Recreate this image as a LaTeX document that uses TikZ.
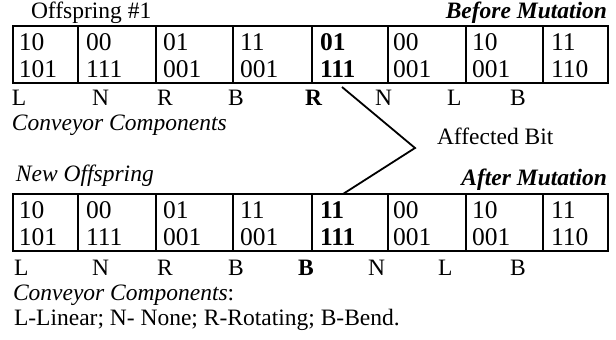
\documentclass[tikz,border=0pt]{standalone}
\usepackage{fontspec}
\setmainfont{Liberation Serif}
\begin{document}
\begin{tikzpicture}[x=1pt,y=-1pt,
  every node/.style={inner sep=0pt, outer sep=0pt, font=\fontsize{23.5}{28}\selectfont},
  txt/.style={anchor=base west},
  rtxt/.style={anchor=base east},
  dig/.style={anchor=base west, font=\fontsize{25.5}{30}\selectfont},
  cell/.style={draw, line width=1.3pt, anchor=north west, minimum height=57pt},
  link/.style={draw, line width=1.8pt}]
\useasboundingbox (0,0) rectangle (616,340);

% ---------- top table ----------
\node[txt] (off1) at (31,18) {Offspring \#1};
\node[rtxt] (bm) at (607,18) {\textbf{\textit{Before Mutation}}};
\foreach \l/\r [count=\i] in {13/78,78/156,156/233,233/312,312/388,388/466,466/543,543/608}{
  \pgfmathsetmacro{\w}{\r-\l}
  \node[cell, minimum width=\w pt] (a\i) at (\l,26) {};
  \node[cell, minimum width=\w pt] (b\i) at (\l,194) {};
}
\foreach \x/\p/\q [count=\i] in {19/10/101,86/00/111,163/01/001,240/11/001,320/\textbf{01}/\textbf{111},393/00/001,472/10/001,551/11/110}{
  \node[dig] (ap\i) at (\x,50) {\p};
  \node[dig] (aq\i) at (\x,77) {\q};
}
\foreach \x/\c [count=\i] in {12/L,92/N,157/R,228/B,305/\textbf{R},375/N,447/L,510/B}{
  \node[txt] (al\i) at (\x,105) {\c};
}
\node[txt] (cc1) at (12,130) {\textit{Conveyor Components}};

% ---------- affected bit ----------
\coordinate (s) at (342,87);
\coordinate (v) at (415,148);
\coordinate (e) at (343,194);
\draw[link] (s) -- (v) -- (e);
\node[txt] (ab) at (437,144) {Affected Bit};

% ---------- bottom table ----------
\node[txt] (noff) at (16,181) {\textit{New Offspring}};
\node[rtxt] (am) at (607,185) {\textbf{\textit{After Mutation}}};
\foreach \x/\p/\q [count=\i] in {19/10/101,86/00/111,163/01/001,240/11/001,320/\textbf{11}/\textbf{111},393/00/001,472/10/001,551/11/110}{
  \node[dig] (bp\i) at (\x,218) {\p};
  \node[dig] (bq\i) at (\x,245) {\q};
}
\foreach \x/\c [count=\i] in {14/L,92/N,157/R,228/B,298/\textbf{B},368/N,438/L,510/B}{
  \node[txt] (bl\i) at (\x,275) {\c};
}
\node[txt] (cc2) at (13,300) {\textit{Conveyor Components}:};
\node[txt] (leg) at (14,325) {L-Linear; N- None; R-Rotating; B-Bend.};
\end{tikzpicture}
\end{document}
